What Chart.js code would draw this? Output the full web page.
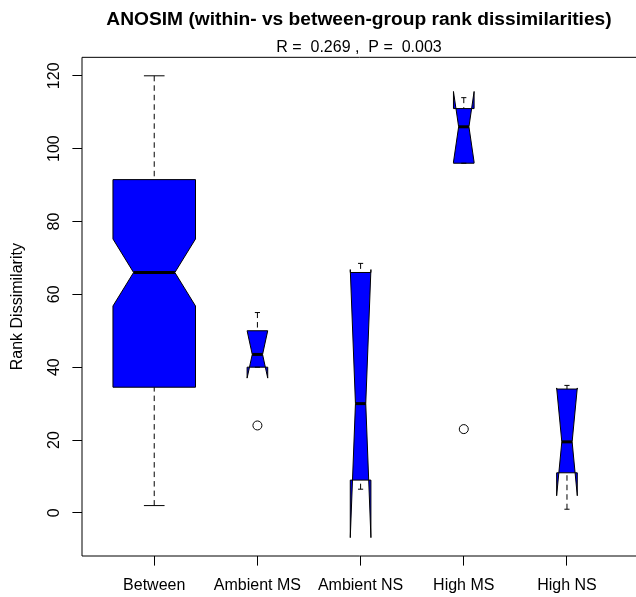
<!DOCTYPE html>
<html>
<head>
<meta charset="utf-8">
<script src="https://cdn.jsdelivr.net/npm/chart.js@4"></script>
<style>
  html, body { margin: 0; padding: 0; background: #fff; overflow: hidden; }
  canvas { display: block; }
</style>
</head>
<body>
<canvas id="c" width="636" height="597" style="width:636px;height:597px"></canvas>
<script>
// ---- data ----
const categories   = ['Between', 'Ambient MS', 'Ambient NS', 'High MS', 'High NS'];
const groupSizes   = [96, 6, 6, 6, 6];
const whiskerLow   = [2, 40, 6.5, 96, 1];
const q1           = [34.5, 40, 9, 96, 11];
const medians      = [66, 43.5, 30, 106, 19.5];
const q3           = [91.5, 50, 66, 111, 34];
const whiskerHigh  = [120, 55, 68.5, 114, 35];
const notchLow     = [56.8, 37.0, -6.8, 96.3, 4.7];
const notchHigh    = [75.2, 50.0, 66.8, 115.7, 34.3];
const outlierGroup = [2, 4];
const outlierValue = [24, 23];
const yTicks       = [0, 20, 40, 60, 80, 100, 120];
const xTicks       = [1, 2, 3, 4, 5];
const titleText    = 'ANOSIM (within- vs between-group rank dissimilarities)';
const subtitleText = 'R =  0.269 ,  P =  0.003';
const yTitle       = 'Rank Dissimilarity';

Chart.defaults.font.family = '"Liberation Sans", Arial, Helvetica, sans-serif';
Chart.defaults.color = '#000';

const boxPlugin = {
  id: 'notchedBoxes',
  beforeDatasetsDraw(chart) {
    const { ctx, chartArea: a, scales } = chart;
    const xs = scales.x, ys = scales.y;
    const nMax = Math.max(...groupSizes);
    ctx.save();
    categories.forEach((c, i) => {
      const xc = xTicks[i];
      const hw = 0.4 * Math.sqrt(groupSizes[i] / nMax);
      const P = (dx, v) => [xs.getPixelForValue(xc + dx), ys.getPixelForValue(v)];
      const pts = [
        P(-hw, q1[i]), P(hw, q1[i]), P(hw, notchLow[i]), P(0.5 * hw, medians[i]),
        P(hw, notchHigh[i]), P(hw, q3[i]), P(-hw, q3[i]), P(-hw, notchHigh[i]),
        P(-0.5 * hw, medians[i]), P(-hw, notchLow[i])
      ];
      ctx.beginPath();
      pts.forEach(([px, py], k) => k ? ctx.lineTo(px, py) : ctx.moveTo(px, py));
      ctx.closePath();
      ctx.fillStyle = '#0000FF';
      ctx.fill();
      ctx.strokeStyle = '#000';
      ctx.lineWidth = 1;
      ctx.setLineDash([]);
      ctx.stroke();
      const line = (p1, p2) => { ctx.beginPath(); ctx.moveTo(p1[0], p1[1]); ctx.lineTo(p2[0], p2[1]); ctx.stroke(); };
      // median
      ctx.lineWidth = 3;
      ctx.lineCap = 'butt';
      line(P(-0.5 * hw, medians[i]), P(0.5 * hw, medians[i]));
      // whiskers
      ctx.lineWidth = 1;
      ctx.setLineDash([5.5, 4]);
      line(P(0, whiskerLow[i]), P(0, q1[i]));
      line(P(0, whiskerHigh[i]), P(0, q3[i]));
      ctx.setLineDash([]);
      // staples
      line(P(-0.25 * hw, whiskerLow[i]), P(0.25 * hw, whiskerLow[i]));
      line(P(-0.25 * hw, whiskerHigh[i]), P(0.25 * hw, whiskerHigh[i]));
    });
    // plot frame: left, top, bottom (the right side lies past the picture edge in the reference)
    ctx.strokeStyle = '#000';
    ctx.lineWidth = 1;
    ctx.beginPath();
    ctx.moveTo(a.right + 4, a.top);
    ctx.lineTo(a.left, a.top);
    ctx.lineTo(a.left, a.bottom);
    ctx.lineTo(a.right + 4, a.bottom);
    ctx.stroke();
    ctx.restore();
  }
};

new Chart(document.getElementById('c'), {
  type: 'scatter',
  data: {
    datasets: [{
      label: 'outliers',
      data: outlierGroup.map((g, k) => ({ x: g, y: outlierValue[k] })),
      pointRadius: 4.5,
      pointHoverRadius: 4.5,
      pointBorderWidth: 1,
      pointBorderColor: '#000',
      pointBackgroundColor: 'rgba(0,0,0,0)'
    }]
  },
  options: {
    responsive: false,
    maintainAspectRatio: false,
    animation: false,
    events: [],
    layout: { autoPadding: false, padding: { left: 0, right: 0, top: 0, bottom: 0 } },
    plugins: {
      legend: { display: false },
      tooltip: { enabled: false },
      title: {
        display: true, text: titleText, fullSize: false,
        font: { size: 19.2, weight: 'bold' }, color: '#000',
        padding: { top: 8.5, bottom: 0 }
      },
      subtitle: {
        display: true, text: subtitleText, fullSize: false,
        font: { size: 16, weight: 'normal' }, color: '#000',
        padding: { top: 6.6, bottom: 0 }
      }
    },
    scales: {
      x: {
        type: 'linear', min: 0.3, max: 5.669,
        afterBuildTicks: s => { s.ticks = xTicks.map(v => ({ value: v })); },
        afterFit: s => { s.height = 41; s.paddingRight = 0; s.paddingLeft = 0; },
        border: { display: false },
        grid: { display: true, drawOnChartArea: false, drawTicks: true, tickLength: 9.6, tickColor: '#000', lineWidth: 1 },
        ticks: {
          autoSkip: false, maxRotation: 0, minRotation: 0, padding: 10,
          font: { size: 16 }, color: '#000',
          callback: v => categories[xTicks.indexOf(v)]
        }
      },
      y: {
        type: 'linear', min: -11.84, max: 125.07,
        afterBuildTicks: s => { s.ticks = yTicks.map(v => ({ value: v })); },
        afterFit: s => { s.width = 82; },
        border: { display: false },
        grid: { display: true, drawOnChartArea: false, drawTicks: true, tickLength: 9.6, tickColor: '#000', lineWidth: 1 },
        ticks: {
          minRotation: 90, maxRotation: 90, crossAlign: 'center', padding: 4.6,
          font: { size: 16 }, color: '#000',
          callback: v => String(v)
        },
        title: {
          display: true, text: yTitle, font: { size: 16 }, color: '#000',
          padding: { top: 7.8, bottom: 0 }
        }
      }
    }
  },
  plugins: [boxPlugin]
});
</script>
</body>
</html>
